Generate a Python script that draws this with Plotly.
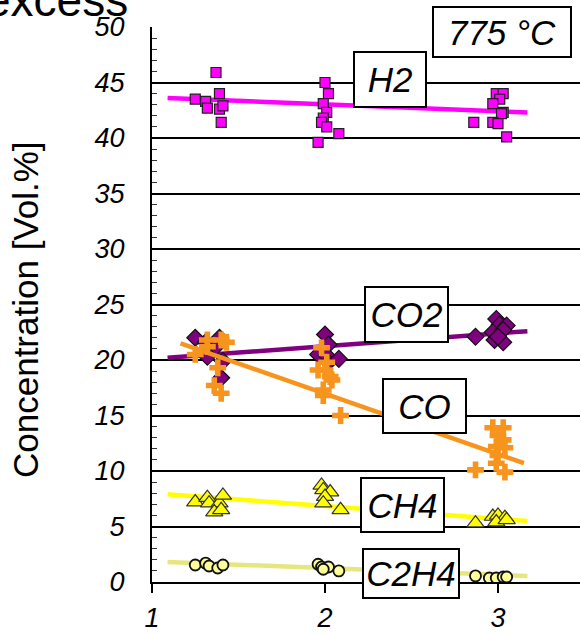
import plotly.graph_objects as go

# ---------------- data ----------------
h2_x = [1.25, 1.31, 1.32, 1.37, 1.39, 1.39, 1.41, 1.40,
        2.00, 2.02, 1.99, 2.01, 1.99, 1.98, 2.01, 2.08, 1.96,
        2.99, 3.03, 3.01, 2.97, 3.03, 3.02, 2.86, 2.97, 3.00, 3.05]
h2_y = [43.5, 43.3, 42.7, 45.9, 44.0, 42.6, 42.9, 41.4,
        45.0, 44.0, 43.1, 42.3, 41.8, 41.4, 41.0, 40.4, 39.6,
        44.0, 44.0, 43.5, 43.1, 42.3, 42.2, 41.4, 41.4, 41.3, 40.1]

co2_x = [1.25, 1.39, 1.32, 1.41, 1.40, 1.31, 1.37,
         2.00, 2.02, 1.96, 2.01, 2.02, 2.08,
         2.87, 2.99, 3.01, 3.05, 2.97, 3.03, 2.98, 3.03, 3.00]
co2_y = [22.0, 22.0, 20.3, 19.9, 18.4, 21.6, 21.2,
         22.3, 21.4, 20.5, 20.4, 19.8, 20.1,
         22.1, 23.7, 23.2, 23.1, 22.5, 22.7, 21.8, 21.6, 22.1]

co_x = [1.25, 1.32, 1.40, 1.43, 1.38, 1.36, 1.40, 1.32,
        1.98, 2.01, 1.96, 2.00, 2.03, 2.04, 1.99, 1.99, 2.09,
        2.97, 3.03, 3.00, 3.03, 2.99, 3.04, 3.00, 2.99, 2.87, 3.04]
co_y = [20.5, 21.8, 21.8, 21.6, 19.3, 17.7, 17.0, 21.2,
        21.1, 19.8, 19.1, 19.1, 18.5, 18.2, 17.3, 16.8, 15.0,
        13.9, 13.9, 13.2, 12.8, 12.2, 12.1, 11.4, 10.7, 10.1, 9.9]

ch4_x = [1.25, 1.32, 1.33, 1.39, 1.41, 1.36, 1.40,
         1.98, 1.99, 2.03, 2.00, 1.99, 2.09,
         2.87, 2.97, 3.00, 3.04, 2.99, 3.05]
ch4_y = [7.2, 7.6, 7.1, 7.1, 7.8, 6.3, 6.5,
         8.7, 8.3, 8.1, 7.7, 7.1, 6.5,
         5.3, 5.9, 6.0, 5.8, 5.4, 5.6]

c2h4_x = [1.25, 1.31, 1.33, 1.38, 1.41,
          1.96, 1.98, 2.02, 1.99, 2.08,
          2.87, 2.95, 2.99, 3.03, 3.05]
c2h4_y = [1.53, 1.70, 1.44, 1.26, 1.53,
          1.60, 1.35, 1.35, 1.15, 1.00,
          0.55, 0.36, 0.36, 0.45, 0.45]

# trend lines (end points)
trend_x = [1.09, 3.17]
h2_trend = [43.6, 42.3]
co2_trend = [20.2, 22.6]
co_trend_x = [1.165, 3.15]
co_trend = [21.5, 10.7]
ch4_trend = [7.9, 5.5]
c2h4_trend = [1.8, 0.55]

y_ticks = [0, 5, 10, 15, 20, 25, 30, 35, 40, 45, 50]
x_ticks = [1, 2, 3]

labels = ["775 °C", "H2", "CO2", "CO", "CH4", "C2H4"]

# ---------------- figure ----------------
SANS = "Liberation Sans, Arial, sans-serif"

fig = go.Figure()

def add_series(tx, ty, x, y, line_color, symbol, fill, size, olw, ocol):
    fig.add_trace(go.Scatter(x=tx, y=ty, mode="lines",
                             line=dict(color=line_color, width=4.5),
                             hoverinfo="skip"))
    fig.add_trace(go.Scatter(x=x, y=y, mode="markers",
                             marker=dict(symbol=symbol, color=fill, size=size,
                                         line=dict(color=ocol, width=olw))))

add_series(trend_x, h2_trend, h2_x, h2_y, "#FF00FF", "square", "#FF00FF", 10, 1.2, "#222222")
add_series(trend_x, co2_trend, co2_x, co2_y, "#800080", "diamond", "#800080", 13, 1.2, "#111111")
add_series(co_trend_x, co_trend, co_x, co_y, "#F7941D", "cross", "#F7941D", 14, 0, "#F7941D")
add_series(trend_x, ch4_trend, ch4_x, ch4_y, "#FFFF00", "triangle-up", "#FFFF00", 15, 1.2, "#333333")
add_series(trend_x, c2h4_trend, c2h4_x, c2h4_y, "#E6E67E", "circle", "#FFFF99", 11, 1.8, "#111111")

# plot area geometry (pixels)
L, R, T, B = 152, 580, 27, 582
W, H = R - L, B - T

def px(x):
    return (x - L) / W

def py(y):
    return (B - y) / H

# label boxes: (text, cx, cy, w, h)
boxes = [
    (labels[0], 502, 32, 136, 48),
    (labels[1], 390, 79.5, 70, 53),
    (labels[2], 406.5, 314.5, 81, 53),
    (labels[3], 424.5, 406, 81, 52),
    (labels[4], 402.5, 505, 81, 52),
    (labels[5], 411, 573.5, 94, 47),
]
for t, cx, cy, w, h in boxes:
    fig.add_annotation(text=t, xref="paper", yref="paper", x=px(cx), y=py(cy),
                       xanchor="center", yanchor="middle", showarrow=False,
                       width=w, height=h, bgcolor="white", bordercolor="black",
                       borderwidth=2, borderpad=0,
                       font=dict(family=SANS, size=35, color="black", style="italic"))

# cropped title fragment at top left
fig.add_annotation(text="excess", xref="paper", yref="paper", x=px(130), y=py(0),
                   xanchor="right", yanchor="middle", showarrow=False,
                   font=dict(family=SANS, size=46, color="black"))

# y-axis title
fig.add_annotation(text="Concentration [Vol.%]", xref="paper", yref="paper",
                   x=px(25), y=py(310), xanchor="center", yanchor="middle",
                   textangle=-90, showarrow=False,
                   font=dict(family=SANS, size=35, color="black"))

fig.update_layout(
    width=580, height=634,
    margin=dict(l=L, r=0, t=T, b=634 - B, autoexpand=False),
    paper_bgcolor="white", plot_bgcolor="white",
    showlegend=False,
)
fig.update_xaxes(range=[1, 1 + W / 173.0], tickvals=x_ticks,
                 ticktext=[str(v) for v in x_ticks],
                 showgrid=False, zeroline=False, automargin=False,
                 showline=True, linecolor="black", linewidth=2,
                 ticks="outside", ticklen=9, tickwidth=2, tickcolor="black",
                 tickfont=dict(family=SANS, size=27, color="black", style="italic"),
                 ticklabelstandoff=2)
fig.update_yaxes(range=[0, 50], tickvals=y_ticks,
                 showgrid=True, gridcolor="black", gridwidth=1.5,
                 zeroline=False, automargin=False,
                 showline=True, linecolor="black", linewidth=2,
                 ticks="inside", ticklen=6, tickwidth=1.5, tickcolor="black",
                 minor=dict(dtick=1, ticks="inside", ticklen=5, tickwidth=1.2,
                            tickcolor="#333333", showgrid=False),
                 tickfont=dict(family=SANS, size=27, color="black", style="italic"),
                 ticklabelstandoff=20)

# remove the page's default 8px body margin so the figure sits at the window origin
fig.write_html("out.html", config={"displayModeBar": False},
               post_script="document.body.style.margin='0';")
